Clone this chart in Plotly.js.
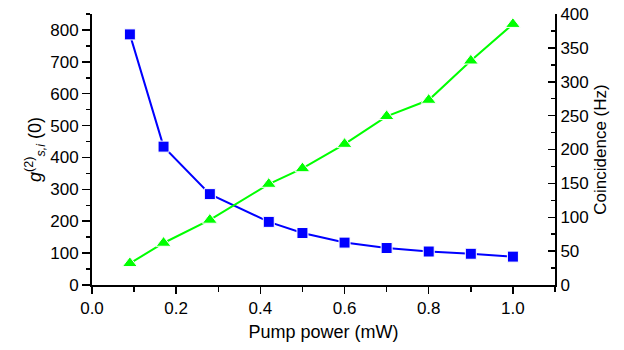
<!DOCTYPE html>
<html><head><meta charset="utf-8">
<script src="https://cdn.plot.ly/plotly-3.0.1.min.js"></script>
<style>html,body{margin:0;padding:0;background:#fff}#chart{width:624px;height:350px}</style>
</head><body><div id="chart"></div>
<script>
const pumpPower = [0.09, 0.17, 0.28, 0.42, 0.50, 0.60, 0.70, 0.80, 0.90, 1.00];
const g2 = [786, 434, 285, 198, 163, 133, 116, 105, 98, 89];
const coincidence = [32, 62, 96, 149, 172, 208, 249, 273, 331, 385];

const font = {family: 'Liberation Sans, Arial, sans-serif', size: 17, color: '#000'};
const traces = [
  {x: pumpPower, y: g2, type: 'scatter', mode: 'lines+markers', yaxis: 'y',
   line: {color: '#0000ff', width: 2},
   marker: {symbol: 'square', size: 11, color: '#0000ff', line: {color: '#ffffff', width: 1}}},
  {x: pumpPower, y: coincidence, type: 'scatter', mode: 'lines+markers', yaxis: 'y2',
   line: {color: '#00ff00', width: 2},
   marker: {symbol: 'triangle-up', size: 13, color: '#00ff00', line: {color: '#ffffff', width: 1}}}
];
const layout = {
  width: 624, height: 350, showlegend: false,
  paper_bgcolor: '#fff', plot_bgcolor: '#fff',
  margin: {l: 92, r: 69, t: 14, b: 65},
  font: font,
  xaxis: {range: [0, 1.1], dtick: 0.2, tick0: 0, tickformat: '.1f', showgrid: false, zeroline: false,
    showline: true, linecolor: '#000', linewidth: 2, ticks: 'outside', ticklen: 7, tickwidth: 1.5, tickcolor: '#000',
    minor: {dtick: 0.1, ticks: 'outside', ticklen: 5, tickwidth: 1.5, tickcolor: '#000', showgrid: false},
    title: {text: 'Pump power (mW)', font: {family: font.family, size: 18}, standoff: 8}},
  yaxis: {range: [0, 850], dtick: 100, tick0: 0, showgrid: false, zeroline: false,
    showline: true, linecolor: '#000', linewidth: 2, ticks: 'outside', ticklen: 8, tickwidth: 1.5, tickcolor: '#000',
    minor: {dtick: 50, ticks: 'outside', ticklen: 4, tickwidth: 1.5, tickcolor: '#000', showgrid: false},
    title: {text: '<i>g</i><sup>(2)</sup><sub><i>s,i</i></sub> (0)', font: {family: font.family, size: 18}, standoff: 4}},
  yaxis2: {range: [0, 400], dtick: 50, tick0: 0, overlaying: 'y', side: 'right', showgrid: false, zeroline: false,
    showline: true, linecolor: '#000', linewidth: 2, ticks: 'inside', ticklen: 7, tickwidth: 1.5, tickcolor: '#000',
    minor: {dtick: 25, ticks: 'inside', ticklen: 4, tickwidth: 1.5, tickcolor: '#000', showgrid: false},
    title: {text: 'Coincidence (Hz)', font: {family: font.family, size: 17}, standoff: 6}}
};
Plotly.newPlot('chart', traces, layout, {displayModeBar: false, staticPlot: true});
</script></body></html>
